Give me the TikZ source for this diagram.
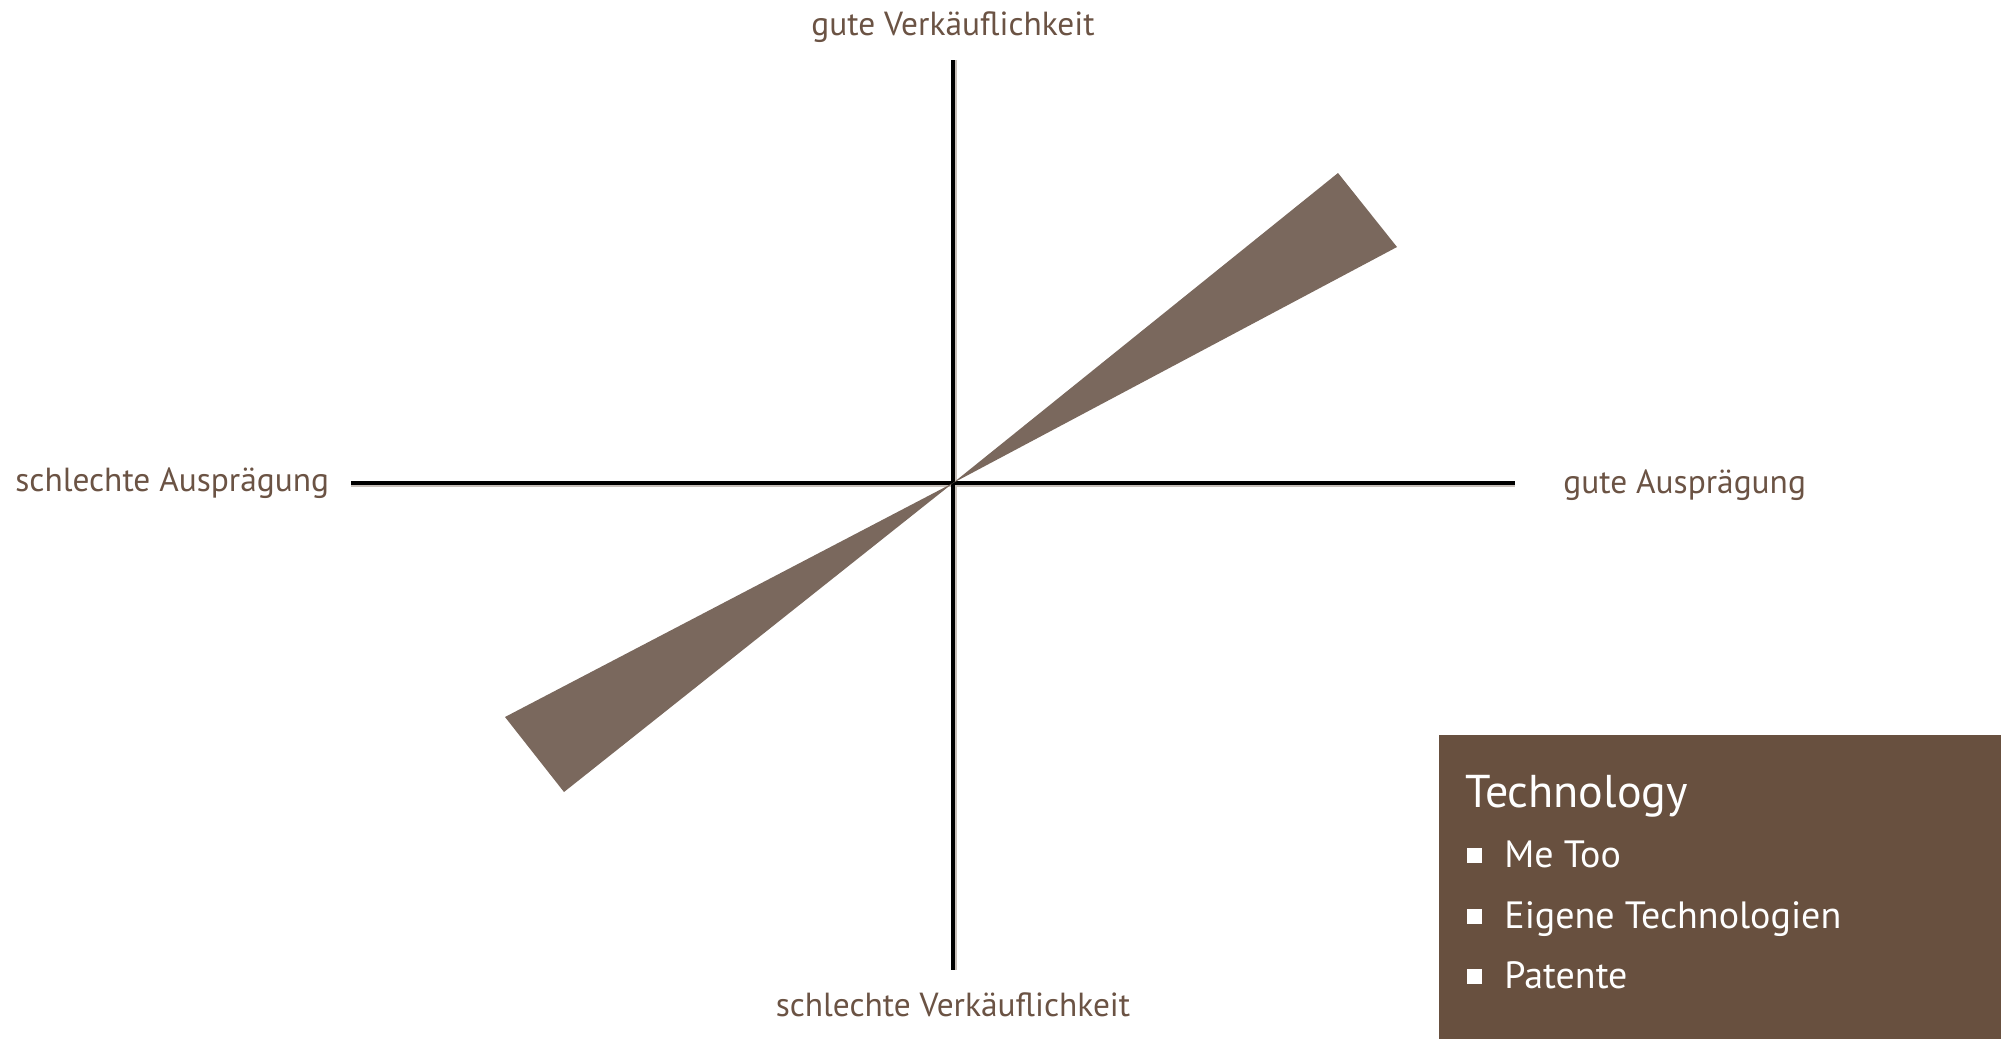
\documentclass[tikz,border=0pt]{standalone}
\usepackage{fontspec}
\setmainfont{PT Sans}
\definecolor{lbl}{HTML}{6B5344}
\definecolor{wedge}{HTML}{7A685D}
\definecolor{boxc}{HTML}{68503F}
\definecolor{shadow}{HTML}{C8C0BA}
\begin{document}
\begin{tikzpicture}[x=0.5pt,y=-0.5pt,
  axislabel/.style={text=lbl,font=\fontsize{16.7}{19}\selectfont,inner sep=0pt},
  axisline/.style={line width=2pt,black},
  axisshadow/.style={line width=2pt,shadow},
  item/.style={text=white,font=\fontsize{19}{23}\selectfont,anchor=base west,inner sep=0pt},
  bul/.style={fill=white,draw=none,minimum size=7.5pt,inner sep=0pt}]
\useasboundingbox (0,0) rectangle (2001,1039);
% axes
\coordinate (c) at (953,483);
\coordinate (vt) at (953,60);
\coordinate (vb) at (953,970);
\coordinate (hl) at (351,483);
\coordinate (hr) at (1515,483);
\draw[axisshadow] ([xshift=1pt]vt) -- ([xshift=1pt]vb);
\draw[axisshadow] ([yshift=-1pt]hl) -- ([yshift=-1pt]hr);
\draw[axisline] (vt) -- (vb);
\draw[axisline] (hl) -- (hr);
% wedges
\fill[wedge] (c) -- (1338,173) -- (1397,247) -- cycle;
\fill[wedge] (c) -- (564,792) -- (505,717) -- cycle;
% labels
\node[axislabel] (top) at (953,27) {gute Verkäuflichkeit};
\node[axislabel] (bot) at (953,1005) {schlechte Verkäuflichkeit};
\node[axislabel,anchor=west] (left) at (15,483) {schlechte Ausprägung};
\node[axislabel,anchor=west] (right) at (1563,485) {gute Ausprägung};
% box
\fill[boxc] (1439,735) rectangle (2001,1039);
\node[item,font=\fontsize{23}{27}\selectfont] (title) at (1465,807) {Technology};
\node[bul] (b1) at (1474,855) {};
\node[item] (i1) at (1504,867) {Me Too};
\node[bul] (b2) at (1474,916) {};
\node[item] (i2) at (1504,928) {Eigene Technologien};
\node[bul] (b3) at (1474,976) {};
\node[item] (i3) at (1504,988) {Patente};
\end{tikzpicture}
\end{document}
